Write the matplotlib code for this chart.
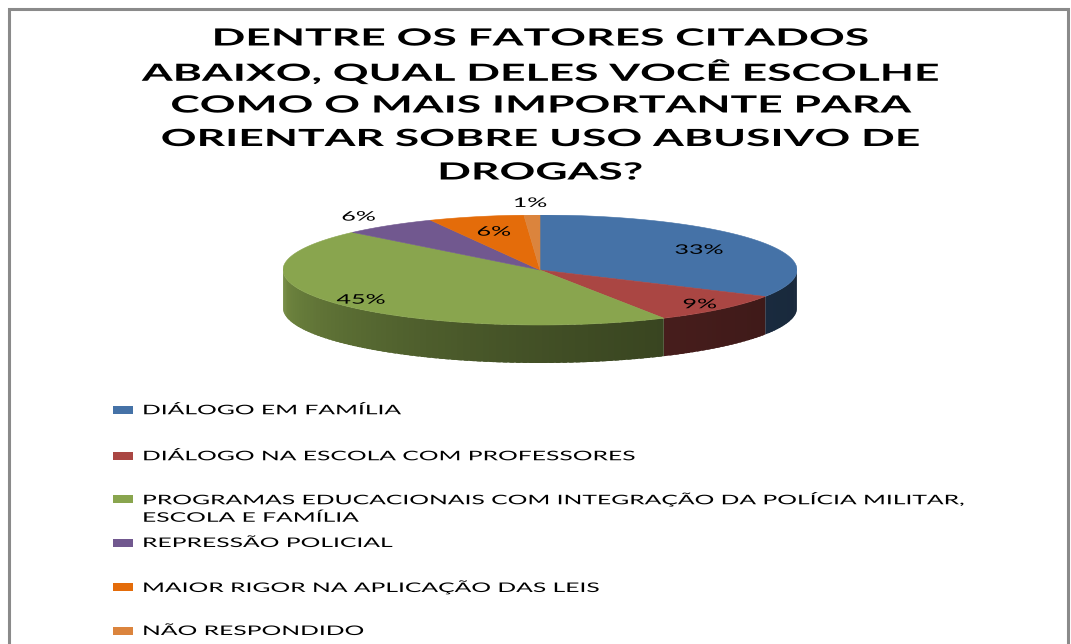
import numpy as np
import matplotlib
matplotlib.use("Agg")
import matplotlib.pyplot as plt
from matplotlib.patches import Polygon, Rectangle
from matplotlib.patheffects import AbstractPathEffect
from matplotlib.transforms import Affine2D
from matplotlib.colors import to_rgb

# data
categorias = [
    "DIÁLOGO EM FAMÍLIA",
    "DIÁLOGO NA ESCOLA COM PROFESSORES",
    "PROGRAMAS EDUCACIONAIS COM INTEGRAÇÃO DA POLÍCIA MILITAR,\nESCOLA E FAMÍLIA",
    "REPRESSÃO POLICIAL",
    "MAIOR RIGOR NA APLICAÇÃO DAS LEIS",
    "NÃO RESPONDIDO",
]
percentuais = [33, 9, 45, 6, 6, 1]
titulo = ["DENTRE OS FATORES CITADOS",
          "ABAIXO, QUAL DELES VOCÊ ESCOLHE",
          "COMO O MAIS IMPORTANTE PARA",
          "ORIENTAR SOBRE USO ABUSIVO DE",
          "DROGAS?"]

cores = ["#4572A7", "#AA4643", "#89A54E", "#71588F", "#E46C0A", "#DB843D"]
raio_rotulo = [0.72, 0.88, 0.88, 1.2, 0.72, 1.22]

W, H = 1071, 644
SX = 1.9  # a imagem original esta esticada na horizontal


class Esticar(AbstractPathEffect):
    """estica o texto na horizontal em volta de x0 (pixels)"""
    def __init__(self, x0, sx=SX):
        super().__init__()
        self.x0 = x0
        self.sx = sx

    def draw_path(self, renderer, gc, tpath, affine, rgbFace=None):
        aff = affine + Affine2D().translate(-self.x0, 0).scale(self.sx, 1).translate(self.x0, 0)
        renderer.draw_path(gc, tpath, aff, rgbFace)


fig = plt.figure(figsize=(W / 100, H / 100), dpi=100)

# moldura
fig.patches.append(Rectangle((9 / W, -0.05), (1068 - 9) / W, 1.05 - 9 / H,
                             transform=fig.transFigure, fill=False,
                             edgecolor="#8a8a8a", linewidth=2.2))

# titulo
for i, linha in enumerate(titulo):
    y = 38 + i * 33.5
    fig.text(540 / W, 1 - y / H, linha, ha="center", va="center",
             fontsize=17, fontweight="bold", family="Lato", color="#000000",
             path_effects=[Esticar(540, 1.88)])

# pizza 3d
cx, cy, rx, ry, prof = 540, 270, 257, 55, 38
ax = fig.add_axes([(cx - rx) / W, 1 - (cy + ry + prof) / H,
                   2 * rx / W, (2 * ry + prof) / H])
d = prof / ry
ax.set_xlim(-1, 1)
ax.set_ylim(-1 - d, 1)
ax.axis("off")


def sombra(t):
    return 0.36 + 0.5 * ((360 - t) / 180) ** 2


fracs = np.array(percentuais) / sum(percentuais)
fim = 90 - 360 * np.cumsum(fracs)
ini = np.concatenate([[90], fim[:-1]])

# laterais (metade da frente)
for a0, a1, c in zip(ini, fim, cores):
    lo, hi = a1 % 360, a0 % 360
    if hi <= lo:
        hi += 360
    rgb = np.array(to_rgb(c))
    for base in (0, 360, -360):
        s = max(lo + base, 180)
        e = min(hi + base, 360)
        if e <= s:
            continue
        ts = np.linspace(s, e, max(2, int((e - s) / 1.5) + 2))
        for t0, t1 in zip(ts[:-1], ts[1:]):
            # cada pedaco invade um pouco o proximo para nao deixar frestas
            tt = np.radians(np.linspace(t0, min(t1 + 1.0, e), 4))
            xs, ys = np.cos(tt), np.sin(tt)
            pts = list(zip(xs, ys)) + list(zip(xs[::-1], ys[::-1] - d))
            f = sombra((t0 + t1) / 2)
            ax.add_patch(Polygon(pts, closed=True, facecolor=rgb * f,
                                 edgecolor="none", linewidth=0))

# topo
for a0, a1, c in zip(ini, fim, cores):
    tt = np.radians(np.linspace(a0, a1, 200))
    pts = [(0, 0)] + list(zip(np.cos(tt), np.sin(tt)))
    ax.add_patch(Polygon(pts, closed=True, facecolor=c, edgecolor=c,
                         linewidth=0.4))

# rotulos
for a0, a1, p, r in zip(ini, fim, percentuais, raio_rotulo):
    m = np.radians((a0 + a1) / 2)
    x, y = r * np.cos(m), r * np.sin(m)
    px = ax.transData.transform((x, y))[0]
    ax.text(x, y, f"{p}%", ha="center", va="center", fontsize=9.5,
            family="Lato", color="#000000", clip_on=False,
            path_effects=[Esticar(px)])

# legenda
ys_leg = [410, 456, 499, 543, 587, 631]
for y, c, nome in zip(ys_leg, cores, categorias):
    fig.patches.append(Rectangle((113 / W, 1 - (y + 4) / H), 20 / W, 8 / H,
                                 transform=fig.transFigure, facecolor=c,
                                 edgecolor="none"))
    for j, linha in enumerate(nome.split("\n")):
        fig.text(142 / W, 1 - (y + j * 18.5) / H, linha, ha="left",
                 va="center", fontsize=9.5, family="Lato", color="#000000",
                 path_effects=[Esticar(142, 1.87)])

fig.savefig("out.png", dpi=100)
